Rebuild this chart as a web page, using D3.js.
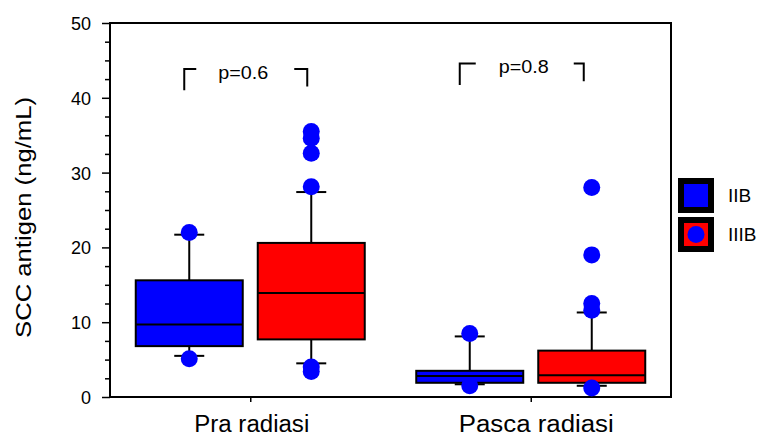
<!DOCTYPE html>
<html>
<head>
<meta charset="utf-8">
<script src="https://d3js.org/d3.v7.min.js"></script>
<style>
    body { margin: 0; background: #fff; }
    svg { width: 758px; height: 438px; display: block; }
    text { font-family: "Liberation Sans", Arial, sans-serif; fill: #000; }
</style>
</head>
<body>
<svg></svg>
<script>
    // categories and series
    var groups = ['Pra radiasi', 'Pasca radiasi'];
    var stages = ['IIB', 'IIIB'];
    var stageColors = ['#0000ff', '#ff0000'];

    // box stats: [whisker low, q1, median, q3, whisker high]
    var praIIB = [5.5, 6.8, 9.7, 15.6, 21.7];
    var praIIIB = [4.5, 7.7, 13.9, 20.6, 27.4];
    var pascaIIB = [1.7, 1.9, 2.8, 3.5, 8.1];
    var pascaIIIB = [1.5, 1.9, 2.9, 6.2, 11.3];

    // outlier points
    var praIIBOut = [22.0, 5.1];
    var praIIIBOut = [35.5, 34.6, 32.6, 28.1, 4.0, 3.4];
    var pascaIIBOut = [8.5, 1.5];
    var pascaIIIBOut = [28.0, 19.0, 12.5, 11.6, 1.2];

    // p-value annotations
    var pLabels = ['p=0.6', 'p=0.8'];
    var bracketTop = [43.85, 44.6];
    var bracketLeftEnd = [41.0, 41.7];
    var bracketRightEnd = [41.5, 42.2];

    var yTicks = [0, 10, 20, 30, 40, 50];
    var yMinorTicks = [2.5, 5, 7.5, 12.5, 15, 17.5, 22.5, 25, 27.5, 32.5, 35, 37.5, 42.5, 45, 47.5];

    var boxes = [
        {group: groups[0], stage: stages[0], s: praIIB, out: praIIBOut},
        {group: groups[0], stage: stages[1], s: praIIIB, out: praIIIBOut},
        {group: groups[1], stage: stages[0], s: pascaIIB, out: pascaIIBOut},
        {group: groups[1], stage: stages[1], s: pascaIIIB, out: pascaIIIBOut}
    ];

    // plot frame (note: "top" is taken by window.top)
    var mLeft = 110, mRight = 671, mTop = 23, mBottom = 397;

    var x = d3.scalePoint().domain(groups).range([mLeft, mRight]).padding(0.5);
    var xs = d3.scaleBand().domain(stages).range([-114.5, 114.5]).paddingInner(0.123);
    var y = d3.scaleLinear().domain([0, 50]).range([mBottom, mTop]);
    var color = d3.scaleOrdinal().domain(stages).range(stageColors);

    var svg = d3.select('svg');

    // axes
    var yAxis = d3.axisLeft(y).tickValues(yTicks).tickSize(8).tickPadding(11).tickSizeOuter(0);
    var yAxisMinor = d3.axisLeft(y).tickValues(yMinorTicks).tickSize(5).tickFormat('').tickSizeOuter(0);
    var xAxis = d3.axisBottom(x).tickSize(5).tickPadding(14).tickSizeOuter(0);

    var gy = svg.append('g').attr('transform', 'translate(' + mLeft + ',0)').call(yAxis);
    gy.selectAll('text').style('font-size', '18px').attr('dy', '0.36em');
    svg.append('g').attr('transform', 'translate(' + mLeft + ',0)').call(yAxisMinor);

    // the source labels are a bit wider than Liberation Sans, so stretch them
    var xLabelWidth = [115, 155];
    var gx = svg.append('g').attr('transform', 'translate(0,' + mBottom + ')').call(xAxis);
    gx.selectAll('text')
        .style('font-size', '23px')
        .attr('dy', '0.71em')
        .attr('dx', function(d, i) { return i === 1 ? 5 : 1; })
        .attr('textLength', function(d, i) { return xLabelWidth[i]; })
        .attr('lengthAdjust', 'spacingAndGlyphs');

    svg.selectAll('.domain').remove();
    svg.selectAll('.tick line').attr('stroke', '#000').attr('stroke-width', 1.5);

    // frame
    svg.append('rect')
        .attr('x', mLeft).attr('y', mTop)
        .attr('width', mRight - mLeft).attr('height', mBottom - mTop)
        .attr('fill', 'none').attr('stroke', '#000').attr('stroke-width', 2);

    // y title
    svg.append('text')
        .attr('transform', 'translate(31,' + 217.5 + ') rotate(-90)')
        .attr('text-anchor', 'middle')
        .style('font-size', '22px')
        .attr('textLength', 241)
        .attr('lengthAdjust', 'spacingAndGlyphs')
        .text('SCC antigen (ng/mL)');

    var bw = xs.bandwidth();
    function cx(d) { return x(d.group) + xs(d.stage) + bw / 2; }

    var g = svg.selectAll('g.box')
        .data(boxes)
        .enter()
        .append('g')
        .classed('box', true);

    // whiskers
    g.append('line')
        .attr('x1', cx).attr('x2', cx)
        .attr('y1', function(d) { return y(d.s[0]); })
        .attr('y2', function(d) { return y(d.s[4]); })
        .attr('stroke', '#000').attr('stroke-width', 2);
    [0, 4].forEach(function(i) {
        g.append('line')
            .attr('x1', function(d) { return cx(d) - 15; })
            .attr('x2', function(d) { return cx(d) + 15; })
            .attr('y1', function(d) { return y(d.s[i]); })
            .attr('y2', function(d) { return y(d.s[i]); })
            .attr('stroke', '#000').attr('stroke-width', 2);
    });

    // boxes
    g.append('rect')
        .attr('x', function(d) { return x(d.group) + xs(d.stage); })
        .attr('y', function(d) { return y(d.s[3]); })
        .attr('width', bw)
        .attr('height', function(d) { return y(d.s[1]) - y(d.s[3]); })
        .attr('fill', function(d) { return color(d.stage); })
        .attr('stroke', '#000').attr('stroke-width', 2);

    // medians
    g.append('line')
        .attr('x1', function(d) { return x(d.group) + xs(d.stage); })
        .attr('x2', function(d) { return x(d.group) + xs(d.stage) + bw; })
        .attr('y1', function(d) { return y(d.s[2]); })
        .attr('y2', function(d) { return y(d.s[2]); })
        .attr('stroke', '#000').attr('stroke-width', 2);

    // outliers
    g.selectAll('circle')
        .data(function(d) { return d.out.map(function(v) { return {v: v, cx: cx(d)}; }); })
        .enter()
        .append('circle')
        .attr('cx', function(d) { return d.cx; })
        .attr('cy', function(d) { return y(d.v); })
        .attr('r', 8.5)
        .attr('fill', '#0000ff');

    // p-value brackets (px offsets from group centre)
    var bracketX = [[-66, -54, 44, 57], [-71, -55, 43, 53]];
    groups.forEach(function(grp, i) {
        var c = x(grp), bx = bracketX[i];
        var t = y(bracketTop[i]);
        svg.append('path')
            .attr('d', 'M' + (c + bx[0]) + ',' + y(bracketLeftEnd[i]) + 'V' + t + 'H' + (c + bx[1]))
            .attr('fill', 'none').attr('stroke', '#000').attr('stroke-width', 2);
        svg.append('path')
            .attr('d', 'M' + (c + bx[2]) + ',' + t + 'H' + (c + bx[3]) + 'V' + y(bracketRightEnd[i]))
            .attr('fill', 'none').attr('stroke', '#000').attr('stroke-width', 2);
        svg.append('text')
            .attr('x', c - 7).attr('y', t + 9.5)
            .attr('text-anchor', 'middle')
            .style('font-size', '19px')
            .attr('textLength', 50)
            .attr('lengthAdjust', 'spacingAndGlyphs')
            .text(pLabels[i]);
    });

    // legend
    var leg = svg.selectAll('g.leg')
        .data(stages)
        .enter()
        .append('g')
        .classed('leg', true)
        .attr('transform', function(d, i) { return 'translate(678,' + (178 + i * 39) + ')'; });
    leg.append('rect').attr('width', 36).attr('height', 35).attr('fill', '#000');
    leg.append('rect').attr('x', 6).attr('y', 6).attr('width', 24).attr('height', 23)
        .attr('fill', function(d) { return color(d); });
    leg.filter(function(d, i) { return i === 1; })
        .append('circle').attr('cx', 18).attr('cy', 17.5).attr('r', 8.5).attr('fill', '#0000ff');
    leg.append('text')
        .attr('x', 50).attr('y', 17.5).attr('dy', '0.36em')
        .style('font-size', '19px')
        .text(function(d) { return d; });
</script>
</body>
</html>
